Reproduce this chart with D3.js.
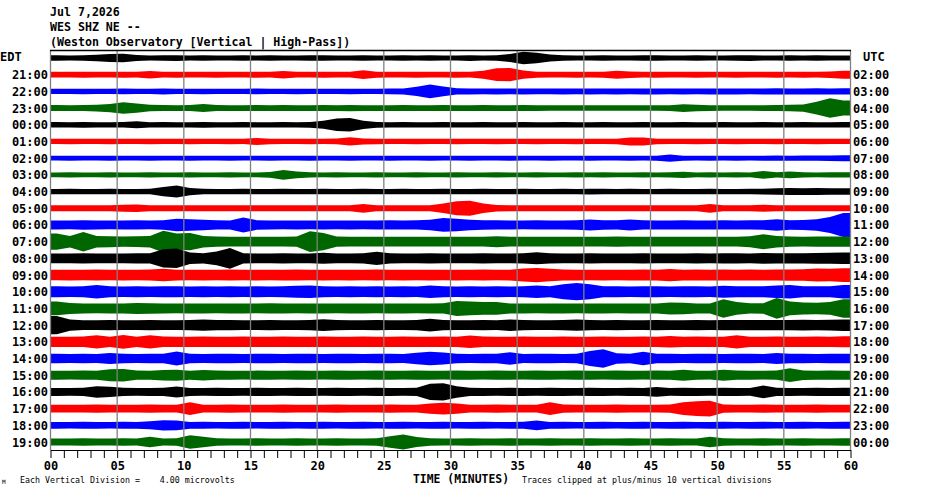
<!DOCTYPE html>
<html><head><meta charset="utf-8">
<script src="https://cdn.jsdelivr.net/npm/d3@7"></script>
<style>
html,body{margin:0;padding:0;background:#fff;}
svg{display:block;}
text{font-family:"DejaVu Sans Mono","Liberation Mono",monospace;}
</style></head>
<body>
<script>
// ---- data ----
const title = ["Jul 7,2026", "WES SHZ NE --", "(Weston Observatory [Vertical | High-Pass])"];
const edtLabels = ["EDT","21:00","22:00","23:00","00:00","01:00","02:00","03:00","04:00","05:00","06:00","07:00","08:00","09:00","10:00","11:00","12:00","13:00","14:00","15:00","16:00","17:00","18:00","19:00"];
const utcLabels = ["UTC","02:00","03:00","04:00","05:00","06:00","07:00","08:00","09:00","10:00","11:00","12:00","13:00","14:00","15:00","16:00","17:00","18:00","19:00","20:00","21:00","22:00","23:00","00:00"];
const traceColors = ["#000000","#ff0000","#0000ff","#006600"];
const xTickLabels = ["00","05","10","15","20","25","30","35","40","45","50","55","60"];
// half-amplitude of each trace per minute (vertical divisions, roughly px)
const r0 = [2.3,2.2,2.4,2.8,3.4,3.8,2.6,2.2,2.3,2.5, 2.2,2.3,2.2,2.2,2.4,2.2,2.3,2.2,2.2,2.3, 2.4,2.2,2.2,2.3,2.2,2.2,2.4,2.2,2.3,2.2, 2.2,2.5,2.2,2.3,3.4,5.5,4.6,3.0,2.3,2.2, 2.2,2.3,2.2,2.2,2.3,2.4,2.2,2.2,2.3,2.2, 2.2,2.3,2.5,2.2,2.2,2.3,2.2,2.3,2.2,2.2];
const r1 = [2.5,2.5,2.6,2.5,2.5,2.6,2.5,3.2,2.5,2.6, 2.5,2.5,2.6,2.5,2.5,2.6,2.5,3.2,2.5,2.5, 2.6,2.5,2.5,3.8,2.6,2.5,2.5,2.6,2.5,2.5, 2.6,2.5,3.5,5.5,5.8,3.6,2.6,2.5,2.5,2.6, 2.5,2.6,3.5,2.8,2.5,2.6,2.5,2.5,2.6,2.5, 2.5,2.6,2.5,2.5,2.6,2.5,2.6,2.5,2.8,3.5];
const r2 = [2.3,2.3,2.4,2.3,2.3,2.5,2.3,2.3,2.6,2.3, 2.3,2.4,2.3,2.3,2.3,2.5,2.3,2.3,2.4,2.3, 2.3,2.3,2.4,2.3,2.3,2.5,2.6,4.0,6.0,4.2, 2.8,2.6,2.5,2.6,2.5,2.6,2.5,2.5,2.6,2.5, 2.6,2.5,2.6,2.5,2.6,2.6,2.5,2.6,2.5,2.6, 2.6,2.6,2.5,2.6,2.7,2.6,2.6,2.7,2.6,2.8];
const r3 = [2.6,2.5,2.6,3.0,3.6,5.0,4.0,2.8,2.6,2.5, 2.6,3.5,2.6,2.5,2.5,2.6,2.5,2.6,2.5,2.5, 2.6,2.5,2.7,2.5,2.5,2.5,2.6,2.5,2.5,2.6, 2.5,2.5,2.6,2.5,2.5,2.6,2.5,2.4,2.4,2.4, 2.4,2.4,2.4,2.4,2.4,2.4,2.5,3.4,2.8,2.5, 2.4,2.4,2.4,2.5,2.6,2.8,3.2,5.5,8.5,6.5];
const r4 = [2.4,2.3,2.5,2.3,2.3,2.4,3.0,2.3,2.4,2.3, 2.3,2.5,2.3,2.3,2.4,2.3,2.3,2.4,2.3,2.5, 3.5,5.4,5.8,3.6,2.5,2.3,2.4,2.3,2.3,2.4, 2.3,2.3,2.4,2.3,2.3,2.4,2.3,2.3,2.4,2.3, 2.3,2.4,2.3,2.3,2.4,2.3,2.3,2.4,2.3,2.3, 2.4,2.3,2.3,2.4,2.3,2.3,2.4,2.3,2.3,2.4];
const r5 = [2.3,2.4,2.3,2.3,2.4,2.3,2.3,2.4,2.3,2.3, 2.4,2.3,2.3,2.4,2.3,3.0,2.4,2.3,2.3,2.4, 2.3,2.5,3.6,2.6,2.4,2.3,2.3,2.4,2.3,2.3, 2.4,2.3,2.3,2.4,2.3,2.3,2.4,2.3,2.3,2.4, 2.3,2.3,2.4,3.4,3.4,2.4,2.3,2.3,2.4,2.3, 2.3,2.4,2.3,2.3,2.4,2.3,2.3,2.4,2.3,2.3];
const r6 = [2.1,2.2,2.1,2.1,2.2,2.1,2.1,2.2,2.1,2.1, 2.2,2.1,2.1,2.2,2.1,2.1,2.2,2.1,2.1,2.2, 2.1,2.1,2.2,2.1,2.1,2.2,2.1,2.1,2.2,2.1, 2.1,2.2,2.1,2.1,2.2,2.1,2.1,2.2,2.1,2.1, 2.2,2.1,2.1,2.2,2.1,2.2,3.2,2.2,2.1,2.2, 2.1,2.2,2.1,2.2,2.3,2.2,2.3,2.3,2.4,2.6];
const r7 = [2.1,2.2,2.1,2.1,2.2,2.1,2.1,2.2,2.1,2.1, 2.2,2.1,2.1,2.2,2.1,2.1,2.4,4.2,3.0,2.2, 2.1,2.2,2.1,2.1,2.2,2.1,2.1,2.2,2.1,2.1, 2.2,2.1,2.1,2.2,2.1,2.1,2.2,2.1,2.1,2.2, 2.1,2.2,2.1,2.1,2.2,2.1,2.2,2.8,2.1,2.2, 2.1,2.2,2.1,3.4,2.2,3.0,2.2,2.1,2.2,2.2];
const r8 = [2.3,2.4,2.3,2.3,2.4,2.3,2.3,2.4,4.0,5.2, 3.2,2.4,2.3,2.3,2.4,2.3,2.3,2.4,2.3,2.3, 2.4,2.3,2.3,2.4,2.3,2.3,2.4,2.3,2.3,2.4, 2.3,2.3,2.4,2.3,2.3,2.4,2.3,2.3,2.4,2.3, 2.5,2.4,2.3,2.4,2.3,2.3,2.4,2.3,2.3,2.4, 2.3,2.3,2.4,2.5,2.8,3.0,2.9,3.0,2.8,2.8];
const r9 = [2.6,2.7,2.6,2.6,2.7,3.0,3.2,2.7,2.6,2.7, 2.6,2.6,2.7,2.6,2.6,2.7,2.6,2.6,2.7,2.6, 2.6,2.7,2.6,3.8,2.7,2.6,2.6,2.7,2.6,4.2, 6.0,6.5,4.2,2.8,2.7,2.6,2.6,2.7,2.6,2.6, 2.7,2.6,2.6,2.7,2.6,2.6,2.7,2.6,2.7,3.8, 2.7,2.6,2.6,3.0,2.7,2.6,2.6,2.7,2.6,2.7];
const r10 = [3.9,3.8,4.2,3.9,3.8,3.9,4.0,3.8,4.2,5.5, 5.0,4.5,4.0,3.9,6.5,4.2,3.9,3.8,3.9,3.8, 3.9,3.8,3.9,3.8,3.9,4.0,3.9,4.0,4.5,6.0, 5.5,4.5,4.2,4.0,3.9,3.8,4.0,3.9,3.9,4.2, 4.8,4.2,4.0,4.8,4.0,3.9,3.9,4.0,3.9,3.9, 4.0,3.9,4.0,4.2,5.0,4.2,4.3,5.0,7.0,10.5];
const r11 = [7.0,5.0,8.5,5.0,4.8,4.5,4.6,5.0,9.5,7.0, 7.5,5.0,4.5,4.3,4.2,4.3,4.2,4.2,4.5,9.0, 7.5,4.5,4.2,4.2,4.3,4.2,4.2,4.3,4.2,4.2, 4.3,4.2,4.2,4.8,4.3,4.2,4.2,4.3,4.2,4.2, 4.3,4.2,4.5,4.3,4.2,4.2,4.3,4.2,4.2,4.3, 4.2,4.3,4.8,6.5,5.0,4.5,4.3,4.4,4.5,4.4];
const r12 = [4.3,4.2,4.4,4.2,4.3,4.2,4.4,4.5,8.0,8.5, 5.0,4.4,6.0,9.0,4.5,4.3,4.2,4.4,4.3,4.2, 4.8,4.3,4.2,4.5,5.8,4.5,4.3,4.2,4.4,4.3, 4.2,4.3,4.4,4.3,4.2,4.4,5.2,4.4,4.3,4.2, 4.4,4.3,4.2,4.3,4.4,4.3,4.2,4.3,4.4,4.3, 4.5,4.4,4.3,4.6,4.5,4.4,4.5,4.6,4.8,5.0];
const r13 = [4.6,4.7,4.6,4.8,4.6,4.7,4.6,4.8,5.5,4.7, 4.6,4.7,4.6,4.8,4.6,4.7,4.6,4.7,4.8,4.6, 4.7,4.6,4.7,4.6,4.8,4.6,4.7,4.6,4.7,4.6, 4.7,4.6,4.8,4.6,4.7,5.6,6.2,5.4,4.8,4.7, 4.6,4.7,4.6,4.7,4.8,4.7,5.3,4.7,4.8,4.7, 4.8,4.7,4.8,4.7,4.8,4.9,5.0,5.6,5.4,6.0];
const r14 = [4.7,4.6,4.7,5.8,4.8,4.6,4.7,4.6,4.8,4.7, 4.6,4.8,4.6,4.7,4.6,4.8,4.6,4.7,5.2,5.4, 4.8,4.6,4.7,4.6,4.8,4.6,4.7,4.6,5.5,4.8, 4.6,4.8,4.6,4.7,4.6,4.8,5.5,4.8,6.5,7.5, 6.5,4.8,4.7,4.6,4.8,4.7,4.6,4.8,4.7,4.6, 5.2,4.8,4.7,4.8,5.5,5.8,4.8,4.7,4.8,5.8];
const r15 = [6.0,4.8,4.3,4.2,4.4,4.3,4.8,4.6,4.3,4.2, 4.4,4.3,4.2,4.3,4.4,4.2,4.5,4.3,4.2,4.4, 4.3,4.2,4.3,4.4,4.2,4.3,4.4,4.2,4.3,4.5, 6.5,6.0,5.5,5.5,4.4,4.3,4.2,4.3,4.4,4.2, 4.3,4.4,4.2,4.3,4.4,4.3,5.2,5.0,4.4,4.3, 8.0,5.5,4.5,4.6,9.0,6.0,5.2,5.0,5.5,8.0];
const r16 = [8.0,4.8,4.3,4.2,4.4,4.3,4.2,4.4,4.3,4.2, 4.4,4.8,4.5,4.4,4.3,4.2,4.4,4.3,4.2,4.4, 5.2,4.5,4.3,4.2,4.4,4.3,4.2,4.4,5.5,4.5, 4.3,4.2,4.4,4.3,5.0,4.4,4.3,4.2,4.4,4.8, 4.5,4.3,4.4,4.3,4.2,4.4,4.3,4.2,4.4,4.3, 4.4,4.5,4.4,4.5,4.4,4.5,4.6,4.5,4.7,5.0];
const r17 = [4.5,4.4,4.6,5.8,4.5,6.0,4.4,5.8,4.6,4.5, 4.4,4.6,4.5,4.4,4.6,4.5,4.4,4.6,4.5,4.4, 4.6,4.5,4.4,4.6,4.5,4.4,4.6,4.5,4.4,4.6, 4.5,5.4,4.6,4.5,4.4,4.6,4.5,4.4,4.6,4.5, 4.4,4.6,4.5,4.4,4.6,4.5,5.0,4.4,4.6,4.5, 4.4,5.8,4.5,4.4,4.6,4.5,4.4,4.6,4.5,4.8];
const r18 = [4.1,4.0,4.2,4.0,4.8,4.1,4.0,4.2,4.1,6.0, 4.2,4.0,4.1,4.2,4.0,4.1,4.2,4.0,4.1,4.2, 4.0,4.1,4.2,4.0,4.1,4.2,4.0,5.0,5.8,5.2, 4.2,4.0,4.1,4.2,5.5,4.0,4.1,4.2,4.0,4.1, 6.5,8.0,4.5,4.2,5.8,4.1,4.2,4.0,4.1,4.2, 4.0,4.1,4.2,4.0,4.8,4.1,4.2,4.0,4.1,4.2];
const r19 = [3.9,3.8,4.0,3.9,5.2,5.5,4.0,3.9,4.5,4.8, 3.9,4.6,4.0,3.9,3.8,4.0,3.9,3.8,4.0,3.9, 3.8,4.0,3.9,3.8,4.0,3.9,3.8,4.0,3.9,3.8, 4.0,3.9,3.8,4.0,3.9,3.8,4.0,3.9,3.8,4.0, 3.9,3.8,4.0,3.9,3.8,4.0,3.9,4.8,3.9,3.8, 4.8,4.0,3.9,3.8,4.0,6.0,4.2,3.9,4.0,3.9];
const r20 = [3.5,3.4,3.6,5.0,4.5,3.6,3.4,3.5,3.6,4.8, 3.5,3.4,3.6,3.5,3.4,3.6,3.5,3.4,3.6,3.5, 3.4,3.6,3.5,3.4,3.6,3.5,3.4,3.6,7.0,7.5, 5.0,3.6,3.5,3.4,3.6,3.5,3.4,3.6,3.5,3.4, 3.6,3.5,3.4,3.6,3.5,4.2,3.4,3.6,3.5,3.4, 3.6,3.5,3.4,5.5,3.6,3.5,3.4,3.6,3.5,3.6];
const r21 = [3.4,3.3,3.4,3.5,3.3,3.4,3.3,3.5,3.4,3.3, 5.5,3.4,3.3,3.5,3.4,3.3,3.4,3.5,3.3,3.4, 3.3,3.5,3.4,3.3,3.4,3.5,3.3,3.4,4.5,5.2, 4.5,3.4,3.3,3.5,3.4,3.3,3.4,5.5,3.5,3.3, 3.4,3.3,3.5,3.4,3.3,3.4,3.5,5.5,6.5,6.8, 3.6,3.4,3.3,3.5,3.4,3.3,3.4,3.5,3.3,3.4];
const r22 = [2.9,2.8,3.0,2.9,2.8,3.0,2.9,3.5,4.5,4.2, 2.9,3.0,2.8,2.9,3.0,2.8,2.9,3.0,2.8,2.9, 3.0,2.8,2.9,3.0,2.8,2.9,3.0,2.8,2.9,3.0, 2.8,2.9,3.0,2.8,2.9,3.0,4.2,2.9,3.0,2.8, 2.9,3.0,2.8,2.9,3.0,2.8,2.9,3.0,2.8,2.9, 3.0,2.8,2.9,3.0,2.8,2.9,3.0,2.8,2.9,3.0];
const r23 = [3.1,3.0,3.2,3.0,3.1,3.2,3.0,4.5,3.1,3.2, 5.8,4.6,3.2,3.0,3.1,3.2,3.0,3.1,3.2,3.0, 3.1,3.2,3.0,3.1,3.2,5.0,6.5,4.4,3.2,3.0, 3.1,3.2,3.0,3.1,3.2,3.0,3.1,3.2,3.0,3.1, 3.2,3.0,3.1,3.2,3.0,3.1,3.2,3.0,3.1,4.5, 3.2,3.0,3.1,3.2,3.0,3.1,3.2,3.0,3.1,3.2];
const traces = [r0,r1,r2,r3,r4,r5,r6,r7,r8,r9,r10,r11,r12,r13,r14,r15,r16,r17,r18,r19,r20,r21,r22,r23];

// ---- drawing ----
(function () {
const W = 930, H = 494;
const svg = d3.select("body").append("svg").attr("width", W).attr("height", H);
const pLeft = 50, pRight = 850, pTop = 50, pBottom = 450;

const x = d3.scaleLinear().domain([0, 60]).range([pLeft, pRight]);
const row = d3.scaleLinear().domain([0, 23]).range([58, 442]);
const amp = d3.scaleLinear().domain([0, 10]).range([0, 11.5]);

svg.append("defs").append("clipPath").attr("id","plotclip")
  .append("rect").attr("x", pLeft).attr("y", pTop).attr("width", pRight-pLeft).attr("height", pBottom-pTop);

// title
svg.append("g").selectAll("text").data(title).join("text")
  .attr("x", 50).attr("y", (d,i) => 16 + i*15)
  .attr("font-size", "11.6px").attr("font-weight", "bold").attr("fill", "#000")
  .text(d => d);

// traces
const gT = svg.append("g").attr("clip-path", "url(#plotclip)");
traces.forEach((vals, i) => {
  const cy = row(i);
  const pts = [{m: 0, a: vals[0]}]
    .concat(vals.map((a, m) => ({m: m + 0.5, a})))
    .concat([{m: 60, a: vals[vals.length-1]}]);
  const area = d3.area()
    .x(d => x(d.m))
    .y0(d => cy - amp(d.a))
    .y1(d => cy + amp(d.a))
    .curve(d3.curveLinear);
  gT.append("path").attr("d", area(pts)).attr("fill", traceColors[i % 4]).attr("stroke", "none");
});

// vertical grid lines every 5 minutes
svg.append("g").selectAll("line").data(d3.range(0, 61, 5)).join("line")
  .attr("x1", d => x(d) + 0.5).attr("x2", d => x(d) + 0.5)
  .attr("y1", pTop).attr("y2", pBottom)
  .attr("stroke", "#808080").attr("stroke-width", 1.3);

// top border
svg.append("line").attr("x1", pLeft).attr("x2", pRight + 1).attr("y1", pTop + 0.5).attr("y2", pTop + 0.5)
  .attr("stroke", "#000").attr("stroke-width", 1.3);

// bottom axis
const axis = d3.axisBottom(x)
  .tickValues(d3.range(0, 61))
  .tickSize(8)
  .tickSizeOuter(0)
  .tickFormat(d => d % 5 === 0 ? xTickLabels[d / 5] : "");
const gA = svg.append("g").attr("transform", `translate(0.5,${pBottom})`).call(axis);
gA.select(".domain").attr("stroke", "#000").attr("stroke-width", 1);
gA.selectAll(".tick line").attr("stroke", "#000");
gA.selectAll(".tick text").attr("font-size", "12px").attr("font-weight", "bold")
  .attr("font-family", "DejaVu Sans Mono, monospace").attr("fill", "#000").attr("dy", "0.75em");

// left (EDT) labels
svg.append("g").selectAll("text").data(edtLabels).join("text")
  .attr("x", (d,i) => i === 0 ? 0 : 48)
  .attr("y", (d,i) => row(i) + (i === 0 ? -1 : 1))
  .attr("text-anchor", (d,i) => i === 0 ? "start" : "end")
  .attr("dominant-baseline", "middle")
  .attr("font-size", "12px").attr("font-weight", "bold").attr("fill", "#000")
  .text(d => d);

// right (UTC) labels
svg.append("g").selectAll("text").data(utcLabels).join("text")
  .attr("x", (d,i) => i === 0 ? 863 : 853)
  .attr("y", (d,i) => row(i) + (i === 0 ? -1 : 1))
  .attr("dominant-baseline", "middle")
  .attr("font-size", "12px").attr("font-weight", "bold").attr("fill", "#000")
  .text(d => d);

// footer
svg.append("text").attr("x", 2).attr("y", 484).attr("font-size", "6px").attr("fill", "#000").text("M");
svg.append("text").attr("x", 20).attr("y", 483).attr("font-size", "8.3px").attr("fill", "#000")
  .attr("xml:space", "preserve").style("white-space", "pre")
  .text("Each Vertical Division =    4.00 microvolts");
svg.append("text").attr("x", 413).attr("y", 483).attr("font-size", "11.4px").attr("font-weight", "bold").attr("fill", "#000")
  .text("TIME (MINUTES)");
svg.append("text").attr("x", 522).attr("y", 483).attr("font-size", "8.3px").attr("fill", "#000")
  .text("Traces clipped at plus/minus 10 vertical divisions");
})();
</script>
</body></html>
